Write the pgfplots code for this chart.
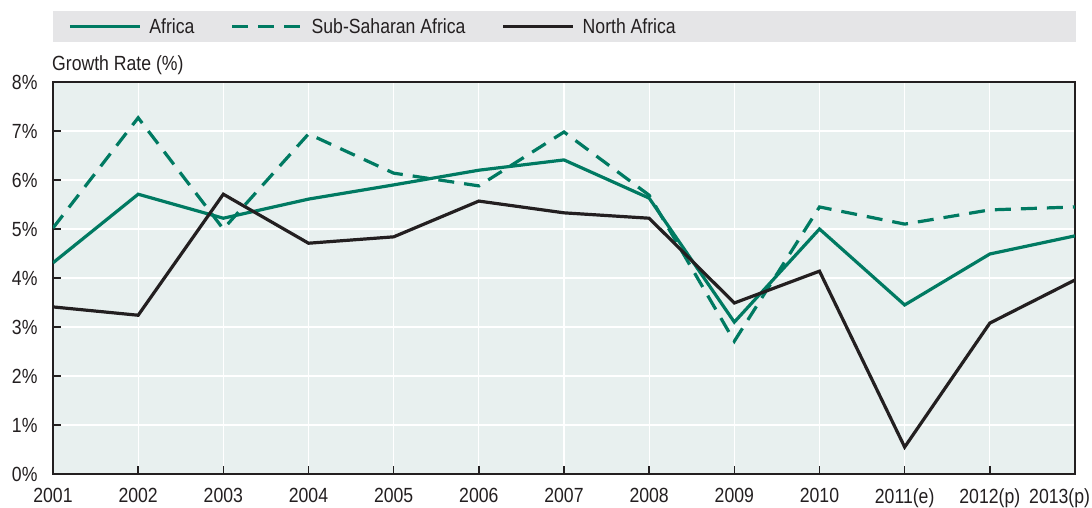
\documentclass[border=0pt]{standalone}
\usepackage{pgfplots}
\pgfplotsset{compat=1.18}
\usepackage{fontspec}
\setmainfont{Liberation Sans}[FakeStretch=0.86]

\definecolor{afgreen}{RGB}{0,122,98}
\definecolor{nablack}{RGB}{35,31,32}
\definecolor{plotbg}{RGB}{232,240,239}
\definecolor{legbg}{RGB}{229,229,231}

\begin{document}
\begin{tikzpicture}
\useasboundingbox (-53pt,-33pt) rectangle (1039pt,474pt);
\fill[legbg] (0pt,432pt) rectangle (1023pt,463pt);
\node[anchor=west, font=\fontsize{20.5}{22}\selectfont, text=nablack, inner sep=0pt] at (-1pt,409pt) {Growth Rate (\%)};
\begin{axis}[
  scale only axis,
  width=1022pt, height=392pt,
  xmin=0, xmax=12, ymin=0, ymax=8,
  xtick={0,...,12},
  xticklabels={2001,2002,2003,2004,2005,2006,2007,2008,2009,2010,2011(e),2012(p),\makebox[30pt][r]{2013(p)}},
  ytick={0,...,8},
  yticklabel={\pgfmathprintnumber{\tick}\%},
  /pgf/number format/assume math mode=true,
  tick label style={font=\fontsize{20.5}{22}\selectfont, text=nablack},
  xticklabel style={yshift=-11pt},
  yticklabel style={xshift=-12pt},
  tick pos=left, tick align=inside,
  major tick length=8pt,
  tick style={line width=1.5pt, nablack},
  axis line style={line width=2.2pt, nablack},
  axis background/.style={fill=plotbg},
  xmajorgrids, ymajorgrids,
  grid style={white, line width=1.3pt},
  legend columns=3,
  legend style={draw=none, fill=none, at={(0,1)}, anchor=west, inner sep=0pt,
    yshift=55.5pt, xshift=15pt, font=\fontsize{20.5}{22}\selectfont, text=nablack,
    /tikz/every odd column/.append style={column sep=6pt},
    /tikz/every even column/.append style={column sep=34pt}},
  legend image code/.code={\draw[#1] (0pt,0pt) -- (70pt,0pt);},
  every axis plot/.append style={line width=3.2pt},
]
\addplot[afgreen] coordinates {(0,4.31) (1,5.71) (2,5.22) (3,5.61) (4,5.90) (5,6.20) (6,6.41) (7,5.63) (8,3.10) (9,5.00) (10,3.45) (11,4.49) (12,4.86)};
\addlegendentry{Africa}
\addplot[afgreen, dash pattern=on 16pt off 10pt] coordinates {(0,5.02) (1,7.27) (2,5.00) (3,6.94) (4,6.14) (5,5.88) (6,6.98) (7,5.69) (8,2.71) (9,5.45) (10,5.10) (11,5.39) (12,5.45)};
\addlegendentry{Sub-Saharan Africa}
\addplot[nablack] coordinates {(0,3.41) (1,3.24) (2,5.71) (3,4.71) (4,4.84) (5,5.57) (6,5.33) (7,5.22) (8,3.49) (9,4.14) (10,0.55) (11,3.08) (12,3.96)};
\addlegendentry{North Africa}
\end{axis}
\end{tikzpicture}
\end{document}
